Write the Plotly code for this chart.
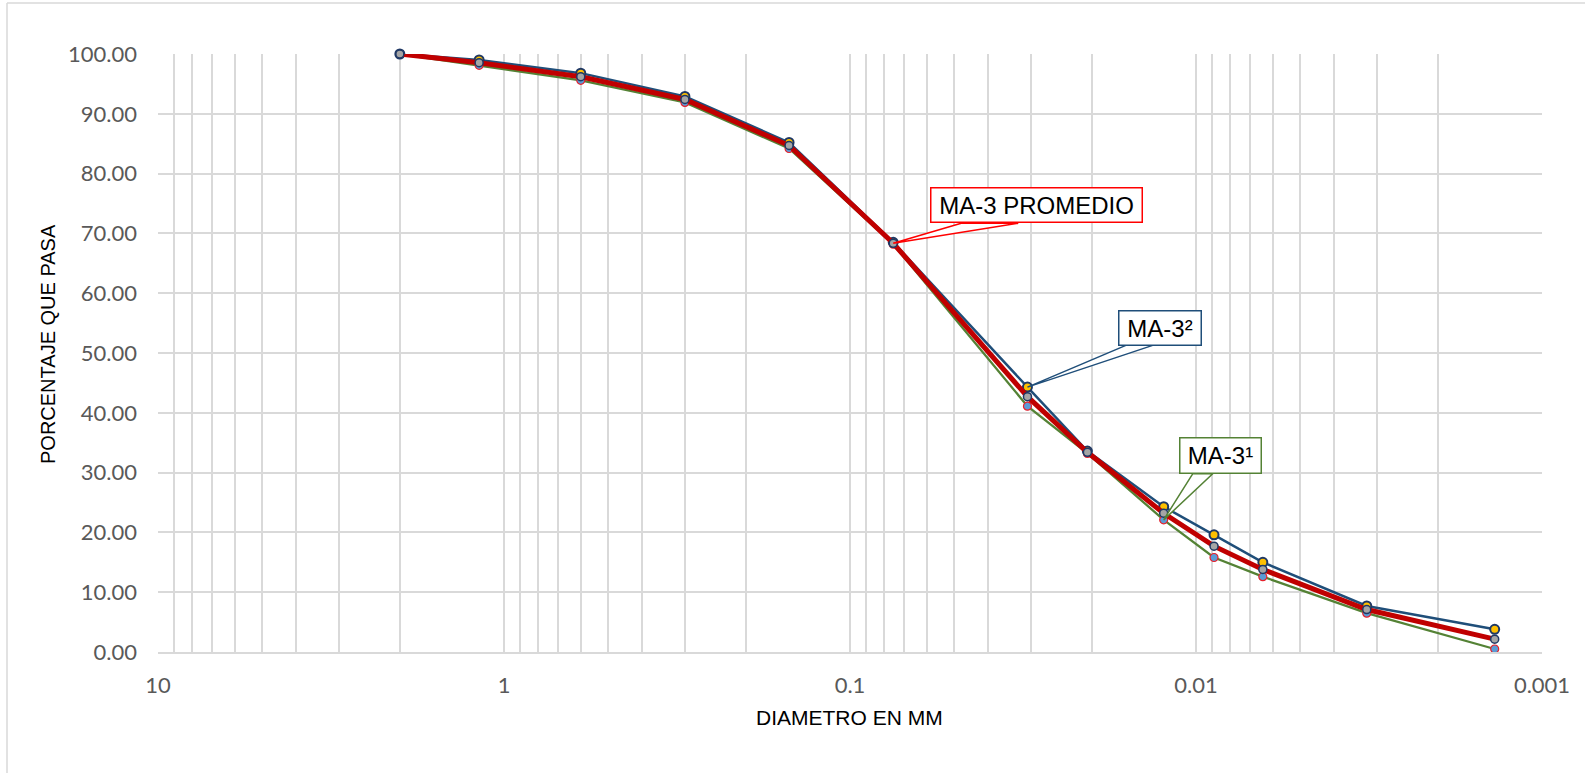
import math
import plotly.graph_objects as go

# Particle size (mm) of each sieve / hydrometer reading
diametro_mm = [2.0, 1.18, 0.6, 0.3, 0.15, 0.075, 0.0307, 0.0206, 0.0124, 0.00887, 0.00641, 0.00321, 0.00137]

# Percent passing for each sample
ma3_1 = [100.0, 98.1, 95.6, 91.9, 84.2, 68.2, 41.1, 33.2, 22.1, 15.8, 12.6, 6.5, 0.5]
ma3_2 = [100.0, 99.0, 96.8, 92.9, 85.2, 68.5, 44.3, 33.6, 24.3, 19.6, 15.0, 7.7, 3.8]
ma3_prom = [100.0, 98.55, 96.2, 92.4, 84.7, 68.35, 42.7, 33.4, 23.2, 17.7, 13.8, 7.1, 2.15]

# Axis ticks
y_ticks = [0, 10, 20, 30, 40, 50, 60, 70, 80, 90, 100]
decades = [10, 1, 0.1, 0.01, 0.001]
decade_labels = ["10", "1", "0.1", "0.01", "0.001"]

x_grid = []
x_text = []
for d, lab in zip(decades, decade_labels):
    x_grid.append(d)
    x_text.append(lab)
    if d > 0.001:
        for k in range(9, 1, -1):
            x_grid.append(d / 10 * k)
            x_text.append("")

TICK_FONT = dict(family="Lato, Carlito, Calibri, sans-serif", size=22, color="#595959")
TITLE_FONT = dict(family="Liberation Sans, Arial, sans-serif", size=21, color="#000000")
GRID = "#d9d9d9"

fig = go.Figure()

fig.add_trace(go.Scatter(
    x=diametro_mm, y=ma3_1, mode="lines+markers", name="MA-3¹", cliponaxis=False,
    line=dict(color="#548235", width=2.3),
    marker=dict(size=8, color="#5B9BD5", line=dict(color="#E8202A", width=1.2)),
))
fig.add_trace(go.Scatter(
    x=diametro_mm, y=ma3_2, mode="lines+markers", name="MA-3²", cliponaxis=False,
    line=dict(color="#1F4E79", width=2.5),
    marker=dict(size=9, color="#FFC000", line=dict(color="#1F3864", width=2)),
))
fig.add_trace(go.Scatter(
    x=diametro_mm, y=ma3_prom, mode="lines+markers", name="MA-3 PROMEDIO", cliponaxis=False,
    line=dict(color="#C00000", width=5),
    marker=dict(size=8, color="#A5A5A5", line=dict(color="#1F3864", width=1.5)),
))

# Callout boxes: (series, point index, box offset dx/dy in px, box size, wedge base, colour, text)
callouts = [
    (ma3_prom, 5, 143, -38, 213, 36, (68, 125), 20, "#FF0000", "MA-3 PROMEDIO"),
    (ma3_2, 6, 133, -59, 84, 36, (99, 126), 42, "#1F4E79", "MA-3²"),
    (ma3_1, 8, 57, -64, 83, 37, (29, 49), 46, "#548235", "MA-3¹"),
]

shapes = []
annotations = []
for serie, i, dx, dy, bw, bh, (b0, b1), bh_up, col, txt in callouts:
    xv, yv = diametro_mm[i], serie[i]
    shapes.append(dict(
        type="path", xref="x", yref="y", xsizemode="pixel", ysizemode="pixel",
        xanchor=xv, yanchor=yv,
        path=f"M {b0},{bh_up} L 0,0 L {b1},{bh_up} Z",
        line=dict(color=col, width=1.5), fillcolor="white", layer="above",
    ))
    annotations.append(dict(
        x=math.log10(xv), y=yv, xref="x", yref="y", showarrow=False,
        xshift=dx, yshift=-dy, text=txt, width=bw - 3, height=bh - 3,
        align="center", valign="middle", bgcolor="white",
        bordercolor=col, borderwidth=1.5, borderpad=0,
        font=dict(family="Liberation Sans, Arial, sans-serif", size=24, color="#000000"),
    ))

# Axis titles
annotations.append(dict(
    x=-0.0795, y=0.515, xref="paper", yref="paper", showarrow=False,
    xanchor="center", yanchor="middle",
    text="PORCENTAJE QUE PASA", textangle=-90, font=dict(TITLE_FONT, size=20),
))
annotations.append(dict(
    x=0.4993, y=-0.1087, xref="paper", yref="paper", showarrow=False,
    xanchor="center", yanchor="middle",
    text="DIAMETRO EN MM", font=TITLE_FONT,
))

# Chart area outline
shapes.append(dict(type="line", xref="paper", yref="paper", x0=-0.1091, x1=-0.1091,
                   y0=-0.4, y1=1.0853, line=dict(color=GRID, width=1.5), layer="below"))
shapes.append(dict(type="line", xref="paper", yref="paper", x0=-0.1091, x1=1.3,
                   y0=1.0853, y1=1.0853, line=dict(color=GRID, width=1.5), layer="below"))

fig.update_layout(
    width=1585, height=773,
    margin=dict(l=158, r=43, t=54, b=121),
    paper_bgcolor="white", plot_bgcolor="white",
    showlegend=False,
    shapes=shapes, annotations=annotations,
    xaxis=dict(
        type="log", range=[1, -3], tickvals=x_grid, ticktext=x_text,
        showgrid=True, gridcolor=GRID, gridwidth=1.7,
        showline=True, linecolor=GRID, linewidth=1.7, mirror=False,
        ticks="", tickfont=TICK_FONT, ticklabelstandoff=13, zeroline=False,
    ),
    yaxis=dict(
        range=[0, 100], tickvals=y_ticks, tickformat=".2f",
        showgrid=True, gridcolor=GRID, gridwidth=1.7,
        showline=False, ticks="", tickfont=TICK_FONT, ticklabelstandoff=20,
        zeroline=False,
    ),
)

fig.write_html("out.html")
